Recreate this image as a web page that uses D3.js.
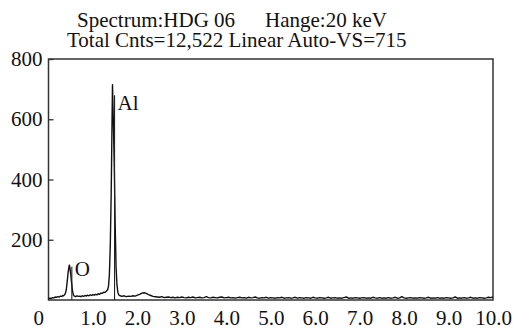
<!DOCTYPE html>
<html>
<head>
<meta charset="utf-8">
<script src="https://cdn.jsdelivr.net/npm/d3@7"></script>
<style>
  body { margin: 0; background: #fff; }
  text { font-family: "Liberation Serif", "Times New Roman", serif; fill: #111; }
</style>
</head>
<body>
<div id="chart-area"></div>
<script>
// spectrum pieces, [keV, counts]
var lowBand = [[0.00,4],[0.03,6],[0.06,5],[0.09,8],[0.12,7],[0.15,10],[0.18,9],[0.21,11],[0.24,10],[0.27,13],[0.30,12],[0.32,15],[0.34,14]];
var oPeak = [[0.36,17],[0.38,22],[0.40,34],[0.42,60],[0.44,90],[0.46,110],[0.47,116],[0.48,109],[0.50,86],[0.52,56],[0.54,30],[0.56,17],[0.58,13]];
var midBand = [[0.61,11],[0.64,14],[0.67,12],[0.70,13],[0.73,11],[0.76,14],[0.79,12],[0.82,15],[0.85,13],[0.88,16],[0.91,14],[0.94,17],[0.97,15],[1.00,18],[1.03,16],[1.06,19],[1.09,17],[1.12,21],[1.15,19],[1.18,23],[1.21,22],[1.24,26],[1.27,25],[1.30,29]];
var alPeak = [[1.33,34],[1.35,46],[1.37,85],[1.39,180],[1.41,350],[1.42,470],[1.43,600],[1.44,715],[1.45,650],[1.46,590],[1.48,440],[1.50,250],[1.52,110],[1.54,50],[1.56,26],[1.58,17]];
// 1.60 .. 10.00 keV every 0.05
var highStart = 1.60, highStep = 0.05;
var highCounts = [15,12,14,11,13,12,14,13,16,19,23,24,22,18,15,12,11,
  10,9,11,8,9,10,8,9,7,9,8,10,8,7,9,8,10,7,8,9,7,8,11,8,7,9,8,7,9,10,7,8,
  9,7,8,6,8,9,7,8,6,9,7,8,10,7,6,8,7,9,6,8,7,6,8,7,9,6,7,8,6,7,9,6,8,7,6,8,7,6,9,7,
  6,8,7,6,7,9,6,7,8,6,7,6,8,10,6,7,6,8,7,6,7,8,6,7,6,9,7,6,8,6,7,6,8,6,7,9,6,7,11,7,
  6,7,8,6,7,6,8,7,6,7,9,6,7,6,8,6,7,6,8,7,6,7,10,6,7,6,8,6,7,9,6,7,6,8,7,6,7,9,8,10];

var elements = ["O", "Al"];
var markerKeV = [0.525, 1.486];
var markerTop = [110, 680];

var xTicks = [0,1,2,3,4,5,6,7,8,9,10];
var yTicks = [200,400,600,800];

var titleLine1a = "Spectrum:HDG 06";
var titleLine1b = "Hange:20 keV";
var titleLine2 = "Total Cnts=12,522 Linear Auto-VS=715";

var svg = d3.select("#chart-area").append("svg").attr("width", 513).attr("height", 330);
var margin = {left: 48.5, right: 20, top: 59, bottom: 30};

var x = d3.scaleLinear().domain([0, 10]).range([0, 444.5]);
var y = d3.scaleLinear().domain([0, 800]).range([241, 0]);

var g = svg.append("g")
	.attr("transform", "translate(" + margin.left + ", " + margin.top + ")");

var spectrum = lowBand.concat(oPeak, midBand, alPeak,
	highCounts.map((c, i) => [highStart + i * highStep, c]));

// frame
g.append("rect")
	.attr("x", x(0)).attr("y", y(800))
	.attr("width", x(10) - x(0)).attr("height", y(0) - y(800))
	.attr("fill", "none").attr("stroke", "#333").attr("stroke-width", 1.5);

var line = d3.line().x(d => x(d[0])).y(d => y(d[1]));

g.append("path")
	.datum(spectrum)
	.attr("d", line)
	.attr("fill", "none")
	.attr("stroke", "#111")
	.attr("stroke-width", 1.4)
	.attr("stroke-linejoin", "round");

// element markers
g.selectAll(".marker").data(elements).enter().append("line")
	.attr("class", "marker")
	.attr("x1", (d, i) => x(markerKeV[i])).attr("x2", (d, i) => x(markerKeV[i]))
	.attr("y1", y(0)).attr("y2", (d, i) => y(markerTop[i]))
	.attr("stroke", "#222").attr("stroke-width", 1.1);

var labelDy = [9, 15];
g.selectAll(".el-label").data(elements).enter().append("text")
	.attr("class", "el-label")
	.attr("x", (d, i) => x(markerKeV[i]) + 3)
	.attr("y", (d, i) => y(markerTop[i]) + labelDy[i])
	.attr("font-size", "21px")
	.text(d => d);

// axes
var leftAxis = d3.axisLeft(y).tickValues(yTicks).tickSizeInner(-5).tickSizeOuter(0).tickPadding(6);
var bottomAxis = d3.axisBottom(x).tickValues(xTicks).tickSize(0).tickPadding(10)
	.tickFormat(d => d === 0 ? "0" : d.toFixed(1));

var leftAxisGroup = g.append("g").attr("class", "left axis").call(leftAxis);
var bottomAxisGroup = g.append("g").attr("class", "bottom axis")
	.attr("transform", "translate(0, " + y(0) + ")").call(bottomAxis);

[leftAxisGroup, bottomAxisGroup].forEach(a => {
	a.select(".domain").remove();
	a.selectAll("line").attr("stroke", "#333").attr("stroke-width", 1.3);
	a.selectAll("text").attr("font-size", "21px").attr("fill", "#111")
		.attr("font-family", "'Liberation Serif', serif");
});

bottomAxisGroup.selectAll("text").filter(d => d === 0)
	.attr("text-anchor", "end").attr("x", -5);

// title
svg.append("text").attr("x", 77).attr("y", 27).attr("font-size", "21px").text(titleLine1a);
svg.append("text").attr("x", 265).attr("y", 27).attr("font-size", "21px").text(titleLine1b);
svg.append("text").attr("x", 67).attr("y", 47).attr("font-size", "21px").text(titleLine2);
</script>
</body>
</html>
